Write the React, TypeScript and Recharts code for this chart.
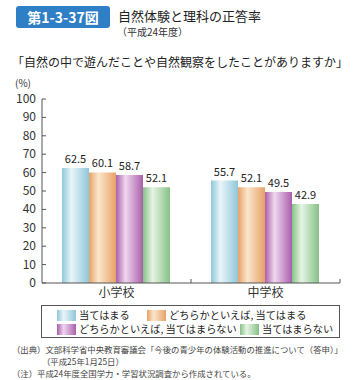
import { BarChart, Bar, XAxis, YAxis, LabelList } from "recharts";

const schools = ["小学校", "中学校"];
const seriesNames = [
  "当てはまる",
  "どちらかといえば, 当てはまる",
  "どちらかといえば, 当てはまらない",
  "当てはまらない",
];
const atehamaru = [62.5, 55.7];
const dochiraAtehamaru = [60.1, 52.1];
const dochiraAtehamaranai = [58.7, 49.5];
const atehamaranai = [52.1, 42.9];
const yTicks = [0, 10, 20, 30, 40, 50, 60, 70, 80, 90, 100];

const keys = ["a", "b", "c", "d"];
const data = schools.map((name, i) => ({
  name,
  a: atehamaru[i],
  b: dochiraAtehamaru[i],
  c: dochiraAtehamaranai[i],
  d: atehamaranai[i],
}));

// edge / highlight colours for the cylinder look
const SHADES = [
  ["#8fc7da", "#eaf5f9"],
  ["#e7a267", "#fbe6cc"],
  ["#a95fab", "#efd6ef"],
  ["#86c186", "#e6f4e4"],
];

const FONT = "'Noto Sans CJK JP', 'Noto Sans', sans-serif";

function YTick(props: any) {
  const { x, y, payload } = props;
  return (
    <g>
      <text x={x} y={y} dy={4} textAnchor="end" fontSize={12} fill="#333" fontFamily={FONT}>
        {payload.value}
      </text>
      <line x1={x + 6} x2={x + 10} y1={y} y2={y} stroke="#555" />
    </g>
  );
}

// category label plus a small inward tick at the right edge of each band
function XTick(props: any) {
  const { x, y, payload } = props;
  const off = payload.offset || 0;
  return (
    <g>
      <line x1={x + off} x2={x + off} y1={y - 4} y2={y} stroke="#555" />
      <text x={x} y={y} dy={14} textAnchor="middle" fontSize={12} fill="#333" fontFamily={FONT}>
        {payload.value}
      </text>
    </g>
  );
}

function Swatch({ i }: { i: number }) {
  return (
    <svg width={19} height={11} style={{ marginRight: 3, flex: "none" }}>
      <defs>
        <linearGradient id={`sw${i}`} x1="0" y1="0" x2="1" y2="0">
          <stop offset="0%" stopColor={SHADES[i][0]} />
          <stop offset="35%" stopColor={SHADES[i][1]} />
          <stop offset="100%" stopColor={SHADES[i][0]} />
        </linearGradient>
      </defs>
      <rect width={19} height={11} fill={`url(#sw${i})`} />
    </svg>
  );
}

function LegendBox() {
  const item = (i: number, w?: number) => (
    <div style={{ display: "flex", alignItems: "center", width: w, flex: "none" }}>
      <Swatch i={i} />
      <span style={{ whiteSpace: "nowrap" }}>{seriesNames[i]}</span>
    </div>
  );
  return (
    <div
      style={{
        position: "absolute",
        left: 41,
        top: 305,
        border: "1px solid #555",
        width: 299,
        height: 33,
        boxSizing: "border-box",
        padding: "2px 0 0 15px",
        fontSize: 10.2,
        lineHeight: "14px",
        color: "#222",
        fontFamily: FONT,
      }}
    >
      <div style={{ display: "flex" }}>
        {item(0, 90)}
        {item(1)}
      </div>
      <div style={{ display: "flex" }}>
        {item(2, 183)}
        {item(3)}
      </div>
    </div>
  );
}

export default function App() {
  return (
    <div
      style={{
        position: "absolute",
        left: 0,
        top: 0,
        width: 361,
        height: 380,
        background: "#fff",
        fontFamily: FONT,
        overflow: "hidden",
      }}
    >
      <div
        style={{
          position: "absolute",
          left: 16,
          top: 6,
          width: 94,
          height: 22,
          background: "#2f7fc6",
          borderRadius: 3,
          color: "#fff",
          fontWeight: 700,
          fontSize: 14,
          lineHeight: "22px",
          textAlign: "center",
        }}
      >
        第1-3-37図
      </div>
      <div style={{ position: "absolute", left: 118, top: 8, fontSize: 13, color: "#222", lineHeight: "16px" }}>
        自然体験と理科の正答率
      </div>
      <div style={{ position: "absolute", left: 117, top: 25, fontSize: 10, color: "#333", lineHeight: "14px" }}>
        （平成24年度）
      </div>
      <div style={{ position: "absolute", left: 12, top: 54, fontSize: 12, color: "#222", lineHeight: "16px", whiteSpace: "nowrap" }}>
        「自然の中で遊んだことや自然観察をしたことがありますか」
      </div>
      <div style={{ position: "absolute", left: 15, top: 77, fontSize: 10, color: "#333", lineHeight: "12px" }}>
        (%)
      </div>

      <div style={{ position: "absolute", left: 0, top: 0 }}>
        <BarChart
          width={361}
          height={304}
          data={data}
          margin={{ top: 99, right: 21, bottom: 0, left: 12 }}
          barCategoryGap={20}
          barGap={0}
        >
          <defs>
            {SHADES.map(([edge, hi], i) => (
              <linearGradient key={i} id={`lg${i}`} x1="0" y1="0" x2="1" y2="0">
                <stop offset="0%" stopColor={edge} />
                <stop offset="35%" stopColor={hi} />
                <stop offset="100%" stopColor={edge} />
              </linearGradient>
            ))}
          </defs>
          <XAxis
            dataKey="name"
            height={21}
            stroke="#555"
            tickLine={false}
            tickSize={0}
            tickMargin={0}
            tick={<XTick />}
            interval={0}
          />
          <YAxis
            domain={[0, 100]}
            ticks={yTicks}
            width={30}
            stroke="#555"
            tickLine={false}
            tickSize={0}
            tickMargin={6}
            tick={<YTick />}
            interval={0}
          />
          {keys.map((k, i) => (
            <Bar key={k} dataKey={k} name={seriesNames[i]} fill={`url(#lg${i})`} isAnimationActive={false}>
              <LabelList dataKey={k} position="top" offset={5} fontSize={11} fill="#222" fontFamily={FONT} />
            </Bar>
          ))}
        </BarChart>
      </div>

      <LegendBox />

      <div style={{ position: "absolute", left: 12, top: 343, fontSize: 8.4, color: "#444", lineHeight: "12px", whiteSpace: "nowrap" }}>
        <div>（出典）文部科学省中央教育審議会「今後の青少年の体験活動の推進について（答申）」</div>
        <div style={{ paddingLeft: 30 }}>（平成25年1月25日）</div>
        <div>（注）平成24年度全国学力・学習状況調査から作成されている。</div>
      </div>
    </div>
  );
}
